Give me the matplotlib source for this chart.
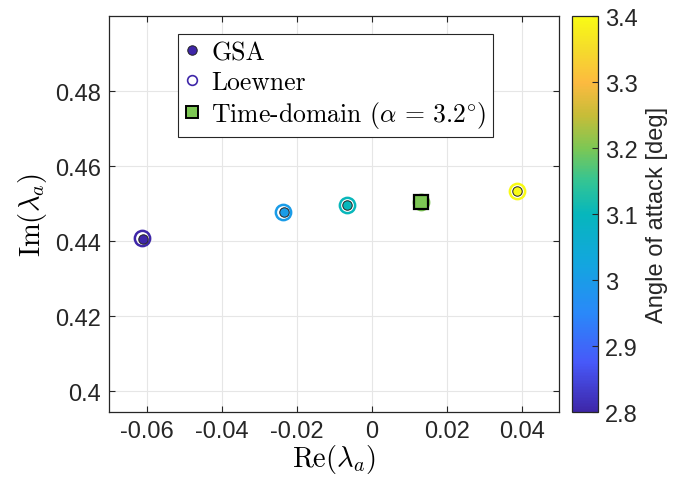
import matplotlib
matplotlib.use('Agg')
import matplotlib.pyplot as plt
import numpy as np
from matplotlib.colors import LinearSegmentedColormap, Normalize
from matplotlib.lines import Line2D
from matplotlib.ticker import FuncFormatter

# data
alpha = [2.8, 3.0, 3.1, 3.2, 3.4]
gsa_re = [-0.0609, -0.0235, -0.0065, 0.0131, 0.0386]
gsa_im = [0.4405, 0.4477, 0.4495, 0.4504, 0.4534]
loew_re = [-0.0613, -0.0236, -0.0066, 0.0131, 0.0386]
loew_im = [0.4408, 0.4478, 0.4496, 0.4505, 0.4534]
td_alpha = 3.2
td_re = [0.0131]
td_im = [0.4505]

xticks = [-0.06, -0.04, -0.02, 0, 0.02, 0.04]
yticks = [0.40, 0.42, 0.44, 0.46, 0.48]
cticks = [2.8, 2.9, 3.0, 3.1, 3.2, 3.3, 3.4]

# approximate MATLAB parula
parula_pts = [(0.0, (0.2422, 0.1504, 0.6603)), (0.125, (0.2783, 0.3488, 0.9779)),
              (0.25, (0.1636, 0.5361, 0.9761)), (0.375, (0.0732, 0.6510, 0.8741)),
              (0.5, (0.0265, 0.7148, 0.7384)), (0.583, (0.20, 0.77, 0.58)),
              (0.667, (0.49, 0.78, 0.33)), (0.75, (0.78, 0.74, 0.22)),
              (0.833, (0.99, 0.73, 0.25)), (0.917, (0.96, 0.86, 0.17)),
              (1.0, (0.9769, 0.9839, 0.0805))]
parula = LinearSegmentedColormap.from_list('parula', parula_pts)
norm = Normalize(vmin=2.8, vmax=3.4)

plt.rcParams['mathtext.fontset'] = 'cm'
plt.rcParams['font.family'] = 'Liberation Sans'
plt.rcParams['axes.unicode_minus'] = False

fig = plt.figure(figsize=(6.76, 4.89), dpi=100)
ax = fig.add_axes([0.1617, 0.1554, 0.6657, 0.8098])
cax = fig.add_axes([0.8462, 0.1554, 0.0385, 0.8098])

for a, xr, yi in zip(alpha, loew_re, loew_im):
    ax.plot(xr, yi, 'o', ms=11, mfc='none', mec=parula(norm(a)), mew=1.8, zorder=3)
for a, xr, yi in zip(alpha, gsa_re, gsa_im):
    ax.plot(xr, yi, 'o', ms=6.8, mfc=parula(norm(a)), mec='#222222', mew=0.7, zorder=4)
ax.plot(td_re, td_im, 's', ms=9.5, mfc=parula(norm(td_alpha)), mec='black', mew=1.6, zorder=5)

ax.set_xlim(-0.07, 0.05)
ax.set_ylim(0.3944, 0.5)
ax.set_xticks(xticks)
ax.set_yticks(yticks)
fmt = FuncFormatter(lambda v, p: f'{v:g}')
ax.xaxis.set_major_formatter(fmt)
ax.yaxis.set_major_formatter(fmt)
ax.tick_params(direction='in', length=4, width=0.8, labelsize=17, colors='#262626',
               top=True, right=True, pad=6)
ax.grid(True, color='#e6e6e6', lw=0.8)
ax.set_axisbelow(True)
for s in ax.spines.values():
    s.set_color('#262626')
    s.set_linewidth(0.9)

ax.set_xlabel(r'$\mathrm{Re}(\lambda_a)$', fontsize=20.5, labelpad=0)
ax.set_ylabel(r'$\mathrm{Im}(\lambda_a)$', fontsize=20.5, labelpad=4)

handles = [
    Line2D([], [], ls='none', marker='o', ms=6.8, mfc=parula(0.0), mec='#222222', mew=0.7),
    Line2D([], [], ls='none', marker='o', ms=7, mfc='none', mec=parula(0.0), mew=1.2),
    Line2D([], [], ls='none', marker='s', ms=8.5, mfc=parula(norm(td_alpha)), mec='black', mew=1.4),
]
labels = ['GSA', 'Loewner', r'Time-domain ($\alpha\,=\,3.2^{\circ}$)']
leg = ax.legend(handles, labels, loc='upper left', bbox_to_anchor=(0.1527, 0.9545),
                borderaxespad=0, frameon=True, fancybox=False, framealpha=1,
                edgecolor='#262626', handlelength=0.6, handletextpad=0.45,
                labelspacing=0.22, borderpad=0.25,
                prop={'family': 'cmr10', 'size': 18.5})
leg.get_frame().set_linewidth(0.8)

cb = fig.colorbar(plt.cm.ScalarMappable(norm=norm, cmap=parula), cax=cax, ticks=cticks)
cb.ax.yaxis.set_major_formatter(fmt)
cb.ax.tick_params(direction='in', length=4, width=0.8, labelsize=17, colors='#262626', pad=5)
cb.outline.set_edgecolor('#262626')
cb.outline.set_linewidth(0.9)
cb.set_label('Angle of attack [deg]', fontsize=17, color='#262626', labelpad=6)

fig.savefig('out.png', dpi=100)
